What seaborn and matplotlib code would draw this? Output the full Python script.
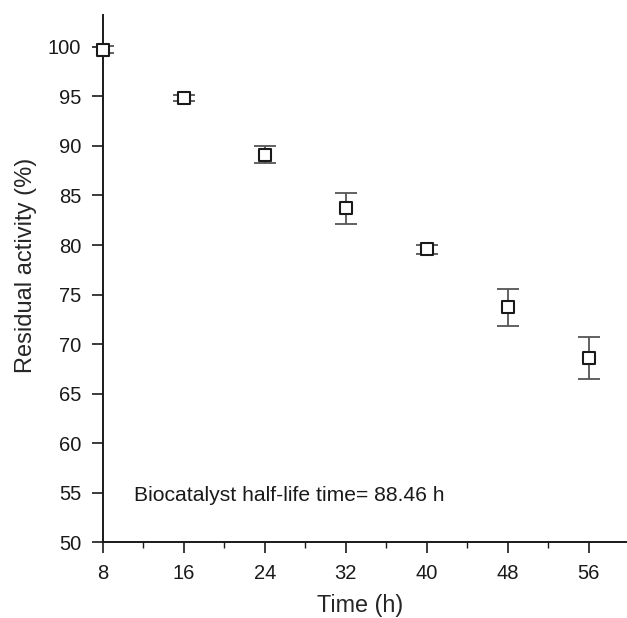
import numpy as np
import pandas as pd
import matplotlib
matplotlib.use('Agg')
import matplotlib.pyplot as plt
from matplotlib.ticker import MultipleLocator
import seaborn as sns

# 数据
time_h = [8, 16, 24, 32, 40, 48, 56]
activity = [99.7, 94.8, 89.1, 83.7, 79.55, 73.7, 68.6]
err = [0.35, 0.3, 0.85, 1.55, 0.5, 1.85, 2.15]
note = 'Biocatalyst half-life time= 88.46 h'

df = pd.DataFrame({'Time (h)': time_h, 'Residual activity (%)': activity, 'err': err})

sns.set_style('ticks')
plt.rcParams['font.family'] = ['Liberation Sans', 'DejaVu Sans']

fig = plt.figure(figsize=(6.27, 6.18), dpi=100)
ax = fig.add_axes([0.1643, 0.1222, 0.8357, 0.8536])

# 误差线
ax.errorbar(df['Time (h)'], df['Residual activity (%)'], yerr=df['err'],
            fmt='none', ecolor='#555555', elinewidth=1.3, capsize=8, capthick=1.3, zorder=2)
sns.scatterplot(data=df, x='Time (h)', y='Residual activity (%)', ax=ax, marker='s', s=78,
                facecolor='white', edgecolor='#1a1a1a', linewidth=1.5, zorder=3, clip_on=False)

ax.set_xlim(8, 59.8)
ax.set_ylim(50, 103.2)
ax.set_xticks(time_h)
ax.xaxis.set_minor_locator(MultipleLocator(4))
ax.set_yticks(np.arange(50, 101, 5))
ax.tick_params(axis='both', which='major', direction='out', length=7.8, width=1.2,
               labelsize=14.5, colors='#1a1a1a')
ax.tick_params(axis='x', which='minor', direction='out', length=4, width=1.0, colors='#1a1a1a')
ax.tick_params(axis='x', pad=8)
ax.tick_params(axis='y', pad=8)
for s in ['left', 'bottom']:
    ax.spines[s].set_linewidth(1.4)
    ax.spines[s].set_color('#1a1a1a')
sns.despine(ax=ax)

ax.set_xlabel('Time (h)', fontsize=16.8)
ax.set_ylabel('Residual activity (%)', fontsize=17)
ax.xaxis.set_label_coords(0.49, -0.098)
ax.yaxis.set_label_coords(-0.126, 0.525)
ax.text(11.06, 54.7, note, fontsize=15.2, va='center', ha='left', color='#1a1a1a')

fig.savefig('out.png', dpi=100)
